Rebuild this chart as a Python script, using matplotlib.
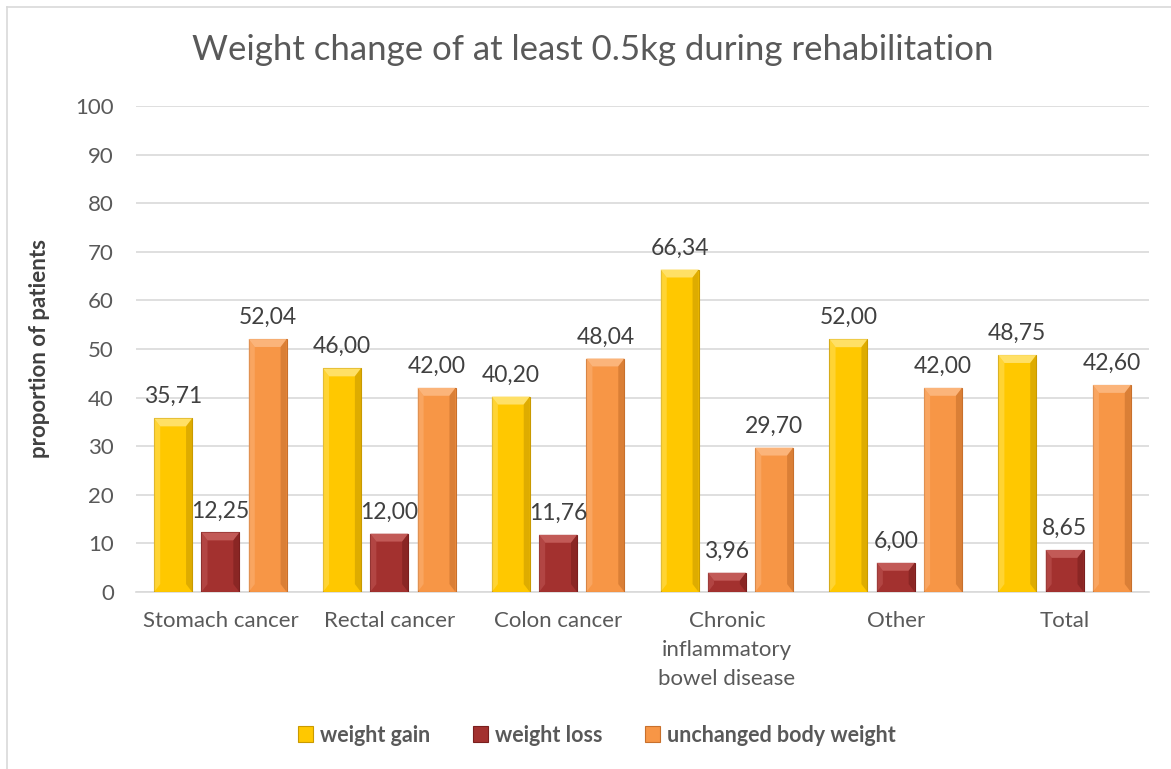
import matplotlib
matplotlib.use("Agg")
import matplotlib.pyplot as plt
import numpy as np
from matplotlib.patches import Polygon, Rectangle
from matplotlib.lines import Line2D

categories = ["Stomach cancer", "Rectal cancer", "Colon cancer",
              "Chronic\ninflammatory\nbowel disease", "Other", "Total"]
weight_gain = [35.71, 46.00, 40.20, 66.34, 52.00, 48.75]
weight_loss = [12.25, 12.00, 11.76, 3.96, 6.00, 8.65]
unchanged = [52.04, 42.00, 48.04, 29.70, 42.00, 42.60]
series_names = ["weight gain", "weight loss", "unchanged body weight"]
colors = ["#FFC800", "#A3312F", "#F79646"]
light = ["#FFE066", "#C25A57", "#FBB47A"]
dark = ["#C99A00", "#7A1F1E", "#C8702C"]

plt.rcParams['font.family'] = ['Lato', 'DejaVu Sans']
fig = plt.figure(figsize=(11.71, 7.69), dpi=100)
W, H = 1171, 769
ax = fig.add_axes([136 / W, (H - 592) / H, (1149 - 136) / W, (592 - 106) / H])

x = np.arange(len(categories))
bw = 0.225
gap = 0.055
offsets = [-(bw + gap), 0, bw + gap]
text_c = "#595959"

for i, (vals, off) in enumerate(zip([weight_gain, weight_loss, unchanged], offsets)):
    bars = ax.bar(x + off, vals, width=bw, color=colors[i], edgecolor=dark[i],
                  linewidth=0.8, zorder=3)
    for b, v in zip(bars, vals):
        x0, y0 = b.get_x(), b.get_y()
        w, h = b.get_width(), b.get_height()
        bev_x = w * 0.16
        bev_y = bev_x * (1013 / 6) / 4.86 * 1.3
        bev_y = min(bev_y, h / 2)
        top = Polygon([[x0, y0 + h], [x0 + w, y0 + h], [x0 + w - bev_x, y0 + h - bev_y],
                       [x0 + bev_x, y0 + h - bev_y]], closed=True, facecolor=light[i],
                      edgecolor='none', zorder=4)
        right = Polygon([[x0 + w, y0 + h], [x0 + w, y0], [x0 + w - bev_x, y0 + bev_y],
                         [x0 + w - bev_x, y0 + h - bev_y]], closed=True, facecolor=dark[i],
                        edgecolor='none', zorder=4, alpha=0.6)
        left = Polygon([[x0, y0 + h], [x0, y0], [x0 + bev_x, y0 + bev_y],
                        [x0 + bev_x, y0 + h - bev_y]], closed=True, facecolor=light[i],
                       edgecolor='none', zorder=4, alpha=0.5)
        ax.add_patch(top)
        ax.add_patch(right)
        ax.add_patch(left)
        ax.annotate(f"{v:.2f}".replace(".", ","), (x0 + w / 2, h), xytext=(0, 8),
                    textcoords="offset points", ha="center", va="bottom",
                    fontsize=16.5, color="#404040", zorder=5)

ax.set_xlim(-0.5, len(categories) - 0.5)
ax.set_ylim(0, 100)
ax.set_yticks(np.arange(0, 101, 10))
ax.yaxis.grid(True, color="#D9D9D9", linewidth=1.2, zorder=0)
ax.set_axisbelow(True)
for s in ["top", "right", "left"]:
    ax.spines[s].set_visible(False)
ax.spines["bottom"].set_color("#D9D9D9")
ax.spines["bottom"].set_linewidth(1.2)
ax.tick_params(axis="both", length=0, colors=text_c, labelsize=16)
ax.tick_params(axis="y", pad=16)
ax.tick_params(axis="x", pad=14)
ax.set_xticks(x)
ax.set_xticklabels(categories, color=text_c, fontsize=16, linespacing=1.55)
ax.set_ylabel("proportion of patients", fontsize=16, fontweight="bold", color="#404040",
              labelpad=18)

fig.text(593 / W, 1 - 50 / H, "Weight change of at least 0.5kg during rehabilitation",
         ha="center", va="center", fontsize=25, color=text_c)

handles = [Rectangle((0, 0), 1, 1, facecolor=c, edgecolor=d, linewidth=0.8)
           for c, d in zip(colors, dark)]
leg = fig.legend(handles, series_names, loc="center", bbox_to_anchor=(597 / W, 1 - 735 / H),
                 ncol=3, frameon=False, handlelength=0.7, handleheight=0.7,
                 handletextpad=0.3, columnspacing=2.0,
                 prop={"weight": "bold", "size": 15.5})
for t in leg.get_texts():
    t.set_color(text_c)

fig.add_artist(Line2D([7 / W, 1], [1 - 7 / H, 1 - 7 / H], color="#D9D9D9", linewidth=1.2))
fig.add_artist(Line2D([7 / W, 7 / W], [0, 1 - 7 / H], color="#D9D9D9", linewidth=1.2))

fig.savefig("out.png", dpi=100)
